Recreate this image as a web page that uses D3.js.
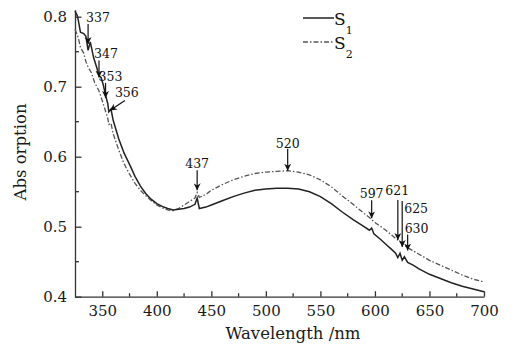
<!DOCTYPE html>
<html>
<head>
<meta charset="utf-8">
<script src="https://cdn.jsdelivr.net/npm/d3@7"></script>
<style>
  body { margin: 0; background: #fff; }
  svg { display: block; font-family: "DejaVu Serif", "Liberation Serif", serif; }
  .axis path, .axis line { stroke: #333; stroke-width: 1.3; }
  .axis text { fill: #1a1a1a; font-size: 15px; font-family: "DejaVu Serif", serif; }
</style>
</head>
<body>
<svg id="chart" width="513" height="344"></svg>
<script>
// wavelength (nm) / absorbance
const s1Wave = [325, 327, 328, 330, 333, 335, 337, 339, 342, 345, 347, 349, 351, 353, 355, 356, 358, 360, 365, 370, 375,
  380, 385, 390, 395, 400, 405, 410, 415, 420, 425, 430, 435, 437, 439, 445, 450, 460, 470, 480, 490,
  500, 510, 520, 530, 540, 550, 560, 570, 580, 590, 595, 597, 599, 605, 610, 615, 619, 621, 623, 625,
  627, 630, 635, 640, 650, 660, 670, 680, 690, 700];
const s1Abs = [0.808, 0.802, 0.795, 0.778, 0.776, 0.772, 0.752, 0.764, 0.742, 0.727, 0.716, 0.713, 0.702, 0.688, 0.676, 0.664, 0.668, 0.652, 0.626, 0.605, 0.589,
  0.572, 0.558, 0.547, 0.539, 0.533, 0.529, 0.526, 0.524, 0.525, 0.526, 0.528, 0.532, 0.541, 0.526, 0.528, 0.531, 0.537, 0.543, 0.548, 0.552,
  0.554, 0.555, 0.555, 0.554, 0.550, 0.543, 0.533, 0.521, 0.510, 0.500, 0.495, 0.498, 0.490, 0.482, 0.475, 0.468, 0.462, 0.456, 0.462, 0.452,
  0.457, 0.449, 0.445, 0.440, 0.432, 0.426, 0.420, 0.415, 0.411, 0.407];

const s2Wave = [325, 328, 330, 333, 335, 337, 340, 343, 345, 347, 350, 353, 355, 356, 358, 360, 365, 370, 375, 380,
  385, 390, 395, 400, 405, 410, 415, 420, 425, 430, 435, 437, 439, 445, 450, 460, 470, 480, 490, 500,
  510, 520, 530, 540, 550, 560, 570, 580, 590, 595, 597, 600, 610, 620, 625, 630, 640, 650, 660, 670,
  680, 690, 700];
const s2Abs = [0.782, 0.770, 0.756, 0.748, 0.736, 0.728, 0.720, 0.706, 0.700, 0.694, 0.680, 0.665, 0.655, 0.646, 0.648, 0.633, 0.610, 0.590, 0.575, 0.562,
  0.552, 0.544, 0.537, 0.531, 0.527, 0.524, 0.523, 0.526, 0.531, 0.536, 0.541, 0.549, 0.542, 0.546, 0.552, 0.560, 0.567, 0.572, 0.576, 0.578,
  0.579, 0.580, 0.578, 0.574, 0.567, 0.557, 0.544, 0.532, 0.519, 0.513, 0.510, 0.506, 0.495, 0.482, 0.476, 0.470, 0.461, 0.452, 0.445, 0.438,
  0.431, 0.425, 0.421];

const xTicks = [350, 400, 450, 500, 550, 600, 650, 700];
const xMinorTicks = [375, 425, 475, 525, 575, 625, 675];
const yTicks = [0.4, 0.5, 0.6, 0.7, 0.8];
const yMinorTicks = [0.45, 0.55, 0.65, 0.75];

// marked peaks: label, wavelength, absorbance the arrow points to
const peakLabels = ["337", "347", "353", "356", "437", "520", "597", "621", "625", "630"];
const peakWave = [337, 347, 353, 357, 437, 520, 597, 621, 625, 630];
const peakAbs = [0.761, 0.713, 0.684, 0.666, 0.552, 0.580, 0.512, 0.481, 0.471, 0.466];

// arrow tail offset and label anchor offset (px) relative to arrow tip
const peakLayout = {
  "337": { tail: [0, -20], label: [-2, -22], anchor: "start" },
  "347": { tail: [0, -17], label: [-5, -20], anchor: "start" },
  "353": { tail: [0, -15], label: [-7, -17], anchor: "start" },
  "356": { tail: [15, -10], label: [5, -14], anchor: "start" },
  "437": { tail: [0, -20], label: [0, -22], anchor: "middle" },
  "520": { tail: [0, -22], label: [0, -23], anchor: "middle" },
  "597": { tail: [0, -18], label: [0, -20], anchor: "middle" },
  "621": { tail: [0, -40], label: [-12.5, -45], anchor: "start" },
  "625": { tail: [0, -46], label: [2, -34], anchor: "start" },
  "630": { tail: [0, -16], label: [-3, -18], anchor: "start" }
};

const svg = d3.select("#chart");

const x = d3.scaleLinear().domain([325, 700]).range([75, 484]);
const y = d3.scaleLinear().domain([0.4, 0.81]).range([296.7, 9.7]);

// axes, ticks pointing inward
const xAxis = svg.append("g")
  .attr("class", "axis")
  .attr("transform", `translate(0,${y(0.4)})`)
  .call(d3.axisBottom(x).tickValues(xTicks).tickSizeInner(-5.5).tickSizeOuter(0).tickPadding(8).tickFormat(d3.format("d")));
xAxis.selectAll(".tick text").attr("dy", "0.75em");

xAxis.selectAll(".minor")
  .data(xMinorTicks)
  .enter()
  .append("line")
    .attr("class", "minor")
    .attr("x1", d => x(d))
    .attr("x2", d => x(d))
    .attr("y1", 0)
    .attr("y2", -3.5);

const yAxis = svg.append("g")
  .attr("class", "axis")
  .attr("transform", `translate(${x(325)},0)`)
  .call(d3.axisLeft(y).tickValues(yTicks).tickSizeInner(-6.5).tickSizeOuter(0).tickPadding(8).tickFormat(d3.format(".1f")));

yAxis.selectAll(".minor")
  .data(yMinorTicks)
  .enter()
  .append("line")
    .attr("class", "minor")
    .attr("x1", 0)
    .attr("x2", 4)
    .attr("y1", d => y(d))
    .attr("y2", d => y(d));

svg.append("text")
  .attr("x", 293)
  .attr("y", 339)
  .attr("text-anchor", "middle")
  .attr("font-size", 16.5)
  .attr("fill", "#1a1a1a")
  .text("Wavelength /nm");

svg.append("text")
  .attr("transform", "translate(26,152) rotate(-90)")
  .attr("text-anchor", "middle")
  .attr("font-size", 16.5)
  .attr("fill", "#1a1a1a")
  .text("Abs orption");

// spectra
const line = d3.line()
  .x(d => x(d[0]))
  .y(d => y(d[1]));

svg.append("path")
  .datum(s2Wave.map((w, i) => [w, s2Abs[i]]))
  .attr("d", line)
  .attr("fill", "none")
  .attr("stroke", "#555")
  .attr("stroke-width", 1.3)
  .attr("stroke-dasharray", "5,2,1.5,2");

svg.append("path")
  .datum(s1Wave.map((w, i) => [w, s1Abs[i]]))
  .attr("d", line)
  .attr("fill", "none")
  .attr("stroke", "#222")
  .attr("stroke-width", 1.5);

// arrows
svg.append("defs")
  .append("marker")
    .attr("id", "head")
    .attr("viewBox", "0 0 10 10")
    .attr("refX", 10)
    .attr("refY", 5)
    .attr("markerWidth", 7)
    .attr("markerHeight", 7)
    .attr("markerUnits", "userSpaceOnUse")
    .attr("orient", "auto")
  .append("path")
    .attr("d", "M0,0 L10,5 L0,10 L3,5 Z")
    .attr("fill", "#111");

const peaks = svg.append("g");
peakLabels.forEach((lab, i) => {
  const tx = x(peakWave[i]);
  const ty = y(peakAbs[i]);
  const lay = peakLayout[lab];
  peaks.append("line")
    .attr("x1", tx + lay.tail[0])
    .attr("y1", ty + lay.tail[1])
    .attr("x2", tx)
    .attr("y2", ty)
    .attr("stroke", "#111")
    .attr("stroke-width", 1.2)
    .attr("marker-end", "url(#head)");
  peaks.append("text")
    .attr("x", tx + lay.label[0])
    .attr("y", ty + lay.label[1])
    .attr("text-anchor", lay.anchor)
    .attr("font-size", 12.5)
    .attr("fill", "#111")
    .text(lab);
});

// legend
const legend = svg.append("g");
const legendItems = [
  { sub: "1", dash: null, stroke: "#222", width: 1.5, y: 18 },
  { sub: "2", dash: "5,2,1.5,2", stroke: "#555", width: 1.3, y: 42 }
];
legendItems.forEach(it => {
  legend.append("line")
    .attr("x1", 303)
    .attr("x2", 334)
    .attr("y1", it.y)
    .attr("y2", it.y)
    .attr("stroke", it.stroke)
    .attr("stroke-width", it.width)
    .attr("stroke-dasharray", it.dash);
  const t = legend.append("text")
    .attr("x", 334)
    .attr("y", it.y + 7)
    .attr("font-size", 17)
    .attr("fill", "#111");
  t.append("tspan").text("S");
  t.append("tspan")
    .attr("dy", 9)
    .attr("font-size", 11)
    .text(it.sub);
});
</script>
</body>
</html>
